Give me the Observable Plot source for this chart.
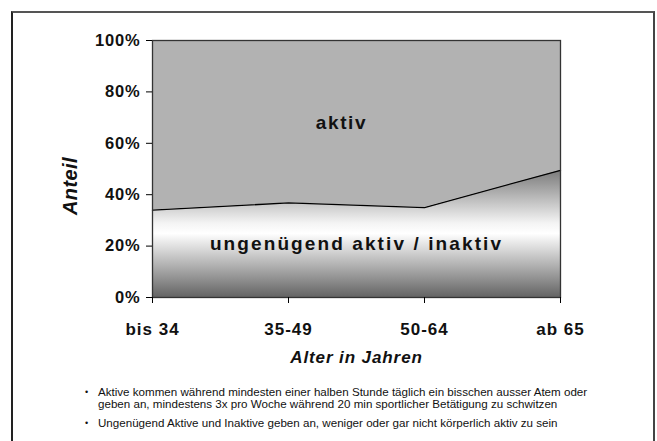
<!DOCTYPE html>
<html>
<head>
<meta charset="utf-8">
<script src="https://cdn.jsdelivr.net/npm/d3@7"></script>
<script src="https://cdn.jsdelivr.net/npm/@observablehq/plot@0.6"></script>
<style>
  html, body { margin: 0; padding: 0; background: #fff; }
  body { width: 657px; height: 441px; position: relative; overflow: hidden; font-family: "Liberation Sans", Arial, sans-serif; }
  #border { position: absolute; left: 11px; top: 11px; width: 640px; height: 460px; border-left: 2px solid #222; border-top: 2px solid #555; border-right: 2px solid #444; }
  #chart { position: absolute; left: 0; top: 0; }
  #notes { position: absolute; left: 85px; top: 386px; width: 520px; font-size: 11.6px; line-height: 12.3px; color: #111; }
  #notes .item { position: relative; padding-left: 13px; margin-bottom: 6px; }
  #notes .item::before { content: "•"; position: absolute; left: 0; top: 0; font-size: 9px; }
  #defs { position: absolute; width: 0; height: 0; }
</style>
</head>
<body>
<svg id="defs" width="0" height="0">
  <defs>
    <linearGradient id="inactGrad" x1="0" y1="0" x2="0" y2="1">
      <stop offset="0" stop-color="#7a7a7a"/>
      <stop offset="0.42" stop-color="#f4f4f4"/>
      <stop offset="0.5" stop-color="#ffffff"/>
      <stop offset="1" stop-color="#646464"/>
    </linearGradient>
  </defs>
</svg>
<div id="border"></div>
<div id="chart"></div>
<div id="notes"></div>
<script>
// ---- data ----
const ageGroups = ["bis 34", "35-49", "50-64", "ab 65"];
const inactiveShare = [34, 36.8, 35, 49.5];   // % ungenügend aktiv / inaktiv (rest = aktiv)
const yTicks = [0, 20, 40, 60, 80, 100];
const activeLabel = ["aktiv"];
const inactiveLabel = ["ungenügend aktiv / inaktiv"];
const yTitle = ["Anteil"];
const xTitle = ["Alter in Jahren"];
const footnotes = [
  "Aktive kommen während mindesten einer halben Stunde täglich ein bisschen ausser Atem oder geben an, mindestens 3x pro Woche während 20 min sportlicher Betätigung zu schwitzen",
  "Ungenügend Aktive und Inaktive geben an, weniger oder gar nicht körperlich aktiv zu sein"
];

const rows = ageGroups.map((a, i) => ({age: a, v: inactiveShare[i]}));
const font = "Liberation Sans, Arial, sans-serif";

const chart = Plot.plot({
  width: 657,
  height: 375,
  marginLeft: 152,
  marginRight: 97,
  marginTop: 40,
  marginBottom: 78,
  style: {fontFamily: font, background: "transparent", color: "#000"},
  x: {type: "point", domain: ageGroups, padding: 0},
  y: {domain: [0, 100]},
  marks: [
    Plot.areaY(rows, {x: "age", y1: "v", y2: 100, fill: "#b2b2b2"}),
    Plot.areaY(rows, {x: "age", y1: 0, y2: "v", fill: "url(#inactGrad)"}),
    Plot.lineY(rows, {x: "age", y: "v", stroke: "#000", strokeWidth: 1.3}),
    Plot.frame({stroke: "#333", strokeWidth: 1.3}),
    Plot.axisY({ticks: yTicks, tickSize: 6, tickPadding: 6, tickFormat: d => d + "%", label: null,
      fontSize: 16.5, fontWeight: "bold", fill: "#111"}),
    Plot.axisX({tickSize: 6, tickPadding: 19, label: null, fontSize: 17, fontWeight: "bold", fill: "#111"}),
    Plot.text(activeLabel, {frameAnchor: "top", lineAnchor: "middle", dx: -15, dy: 82, fontSize: 19, fontWeight: "bold", fill: "#111"}),
    Plot.text(inactiveLabel, {frameAnchor: "top", lineAnchor: "middle", dx: 0, dy: 203, fontSize: 19, fontWeight: "bold", fill: "#111"}),
    Plot.text(yTitle, {frameAnchor: "left", textAnchor: "middle", lineAnchor: "middle", dx: -82, dy: 17, rotate: -90, fontSize: 20, fontWeight: "bold", fontStyle: "italic", fill: "#111"}),
    Plot.text(xTitle, {frameAnchor: "bottom", lineAnchor: "middle", dx: 0, dy: 60, fontSize: 17, fontWeight: "bold", fontStyle: "italic", fill: "#111"})
  ]
});
document.getElementById("chart").appendChild(chart);

// letter spacing to mimic the wide original lettering
d3.select(chart).selectAll("g[aria-label='y-axis tick label'] text").style("letter-spacing", "0.8px");
d3.select(chart).selectAll("g[aria-label='x-axis tick label'] text").style("letter-spacing", "1px");
d3.select(chart).selectAll("g[aria-label='text'] text").style("letter-spacing", function() {
  const t = this.textContent;
  if (t === activeLabel[0]) return "1.6px";
  if (t === inactiveLabel[0]) return "2.1px";
  if (t === xTitle[0]) return "0.9px";
  return "0.4px";
});

const notes = d3.select("#notes");
footnotes.forEach(f => notes.append("div").attr("class", "item").text(f));
</script>
</body>
</html>
